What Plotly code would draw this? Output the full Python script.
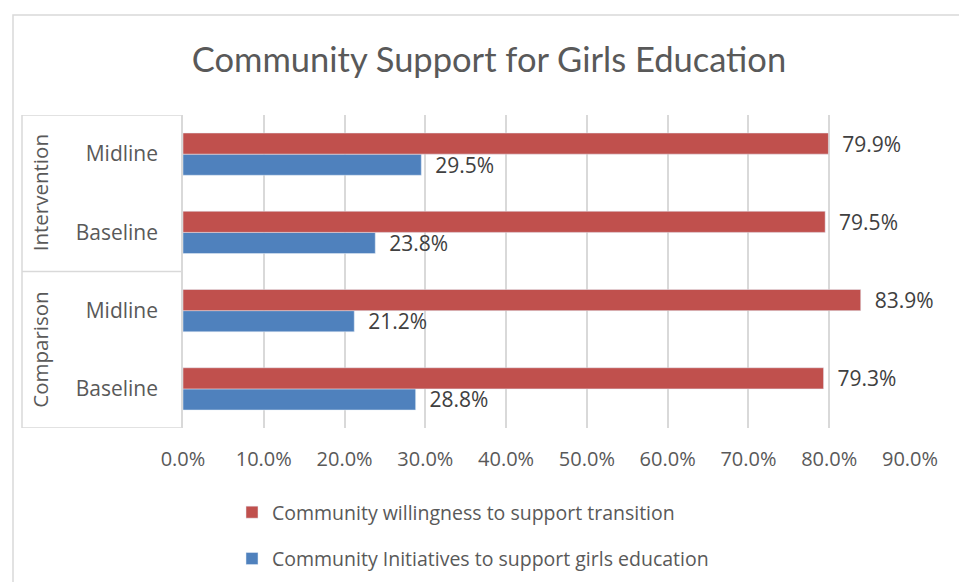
import plotly.graph_objects as go

# Categories listed bottom-to-top (Plotly draws the first category at the bottom)
rounds = ["Baseline", "Midline", "Baseline", "Midline"]
groups = ["Comparison", "Intervention"]
willingness = [79.3, 83.9, 79.5, 79.9]   # Community willingness to support transition (%)
initiatives = [28.8, 21.2, 23.8, 29.5]   # Community Initiatives to support girls education (%)
x_tick_vals = [0, 10, 20, 30, 40, 50, 60, 70, 80, 90]
x_tick_text = ["0.0%", "10.0%", "20.0%", "30.0%", "40.0%", "50.0%",
               "60.0%", "70.0%", "80.0%", "90.0%"]

W, H = 959, 582
L, R, T, B = 183, 49, 115, 154
PW, PH = W - L - R, H - T - B

def px_x(p):
    return (p - L) / PW

def px_y(p):
    return (H - B - p) / PH

RED = "#C0504D"
BLUE = "#4F81BD"
GRID = "#D9D9D9"
TXT = "#595959"
FONT = "Open Sans"

ypos = list(range(len(rounds)))

fig = go.Figure()
fig.add_trace(go.Bar(
    y=ypos, x=initiatives, orientation="h", name="Community Initiatives to support girls education",
    marker=dict(color=BLUE), legendgroup="b", legendrank=2,
    text=[f"\u00a0\u00a0{v:.1f}%" for v in initiatives], textposition="outside",
    textfont=dict(family=FONT, size=21, color="#404040"),
    constraintext="none", cliponaxis=False,
))
fig.add_trace(go.Bar(
    y=ypos, x=willingness, orientation="h", name="Community willingness to support transition",
    marker=dict(color=RED), legendgroup="a", legendrank=1,
    text=[f"\u00a0\u00a0{v:.1f}%" for v in willingness], textposition="outside",
    textfont=dict(family=FONT, size=21, color="#404040"),
    constraintext="none", cliponaxis=False,
))

shapes = [
    # outer chart frame
    dict(type="rect", xref="paper", yref="paper", x0=px_x(13), x1=px_x(975),
         y0=px_y(600), y1=px_y(15), line=dict(color=GRID, width=1.5)),
    # category group box
    dict(type="line", xref="paper", yref="y", x0=px_x(22), x1=0, y0=3.5, y1=3.5,
         line=dict(color=GRID, width=1.5)),
    dict(type="line", xref="paper", yref="y", x0=px_x(22), x1=0, y0=1.5, y1=1.5,
         line=dict(color=GRID, width=1.5)),
    dict(type="line", xref="paper", yref="y", x0=px_x(22), x1=0, y0=-0.5, y1=-0.5,
         line=dict(color=GRID, width=1.5)),
    dict(type="line", xref="paper", yref="y", x0=px_x(22), x1=px_x(22), y0=-0.5, y1=3.5,
         line=dict(color=GRID, width=1.5)),
]

annotations = [
    dict(text=g, xref="paper", yref="y", x=px_x(40), y=yc, textangle=-90,
         showarrow=False, font=dict(family=FONT, size=20.5, color=TXT),
         xanchor="center", yanchor="middle")
    for g, yc in zip(groups, [0.5, 2.5])
]

fig.update_layout(
    width=W, height=H,
    margin=dict(l=L, r=R, t=T, b=B, autoexpand=False),
    paper_bgcolor="white", plot_bgcolor="white",
    barmode="group", bargap=0.46, bargroupgap=0,
    title=dict(text="Community Support for Girls Education", x=px_x(489), xref="paper",
               xanchor="center", y=1 - 60 / H, yanchor="middle",
               font=dict(family="Lato", size=34.5, color=TXT)),
    xaxis=dict(range=[0, 90], tickvals=x_tick_vals, ticktext=x_tick_text,
               showgrid=True, gridcolor=GRID, gridwidth=1.5, zeroline=False,
               showline=False, ticks="", ticklabelstandoff=17,
               tickfont=dict(family=FONT, size=20, color=TXT), fixedrange=True),
    yaxis=dict(range=[-0.5, 3.5], tickvals=ypos, ticktext=rounds,
               showgrid=False, zeroline=False, showline=True, linecolor=GRID, linewidth=1.5,
               ticks="", ticklabelstandoff=19,
               tickfont=dict(family=FONT, size=21, color=TXT), fixedrange=True),
    legend=dict(xref="container", yref="container", x=232 / W, y=1 - 493 / H,
                xanchor="left", yanchor="top", traceorder="grouped",
                tracegroupgap=18, font=dict(family=FONT, size=19.5, color=TXT),
                bgcolor="rgba(0,0,0,0)"),
    shapes=shapes, annotations=annotations,
)

fig.write_html("out.html")
